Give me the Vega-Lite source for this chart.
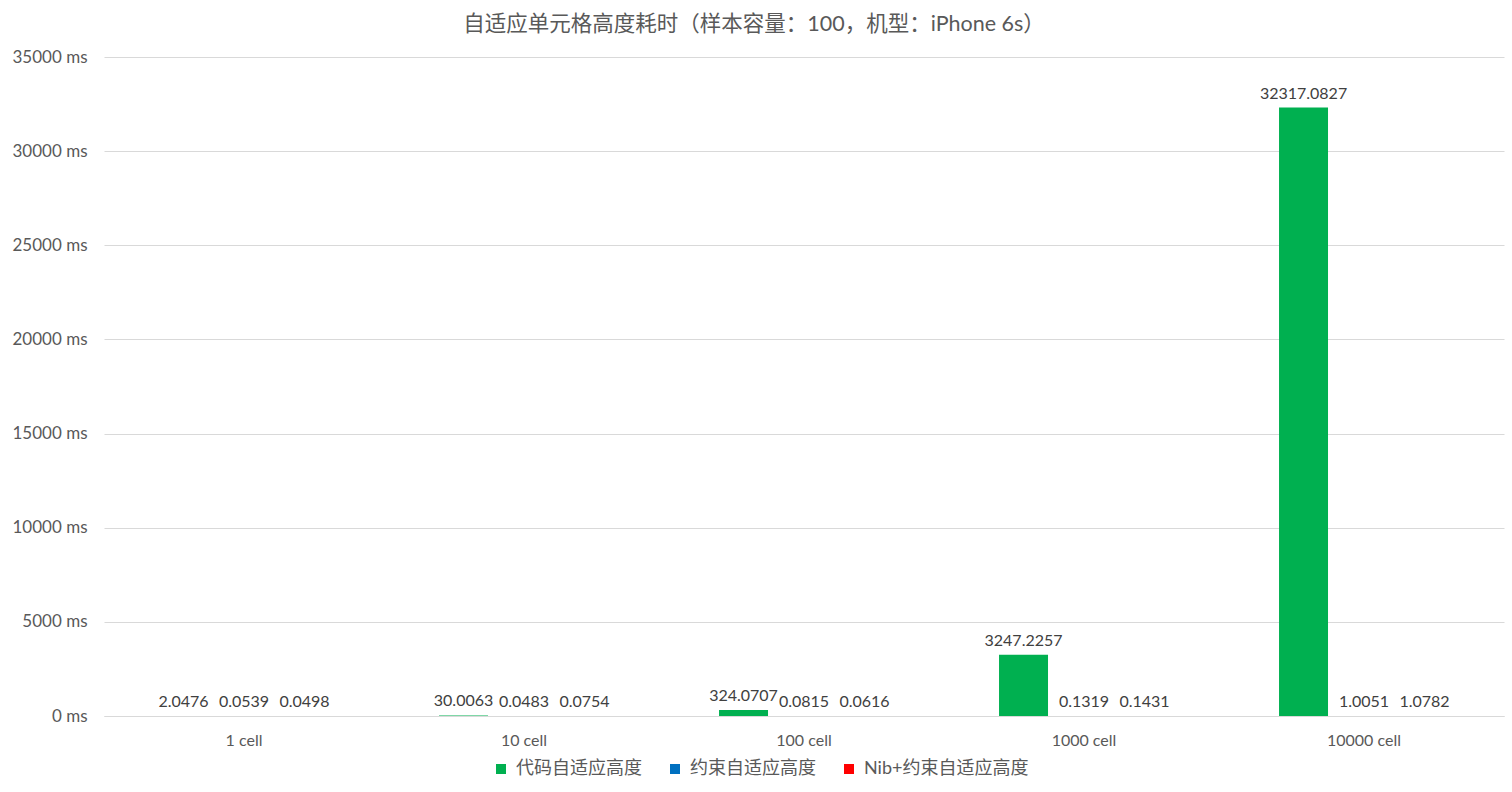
{
  "$schema": "https://vega.github.io/schema/vega-lite/v6.json",
  "description": "自适应单元格高度耗时（样本容量：100，机型：iPhone 6s）",
  "width": 1400,
  "height": 659,
  "autosize": "none",
  "padding": {"left": 104, "top": 57, "right": 8, "bottom": 76},
  "background": "white",
  "title": {
    "text": "自适应单元格高度耗时（样本容量：100，机型：iPhone 6s）",
    "fontSize": 21.5,
    "fontWeight": "normal",
    "color": "#595959",
    "font": "Lato, Noto Sans CJK SC",
    "anchor": "middle",
    "dx": -50,
    "offset": 13
  },
  "config": {
    "font": "Lato, Noto Sans CJK SC",
    "view": {"stroke": null},
    "axis": {
      "labelColor": "#595959",
      "labelFont": "Lato, Noto Sans CJK SC",
      "gridColor": "#d9d9d9",
      "domainColor": "#d9d9d9",
      "ticks": false
    }
  },
  "data": {
    "values": [
      {"cells": "1 cell", "series": "代码自适应高度", "ms": 2.0476},
      {"cells": "1 cell", "series": "约束自适应高度", "ms": 0.0539},
      {"cells": "1 cell", "series": "Nib+约束自适应高度", "ms": 0.0498},
      {"cells": "10 cell", "series": "代码自适应高度", "ms": 30.0063},
      {"cells": "10 cell", "series": "约束自适应高度", "ms": 0.0483},
      {"cells": "10 cell", "series": "Nib+约束自适应高度", "ms": 0.0754},
      {"cells": "100 cell", "series": "代码自适应高度", "ms": 324.0707},
      {"cells": "100 cell", "series": "约束自适应高度", "ms": 0.0815},
      {"cells": "100 cell", "series": "Nib+约束自适应高度", "ms": 0.0616},
      {"cells": "1000 cell", "series": "代码自适应高度", "ms": 3247.2257},
      {"cells": "1000 cell", "series": "约束自适应高度", "ms": 0.1319},
      {"cells": "1000 cell", "series": "Nib+约束自适应高度", "ms": 0.1431},
      {"cells": "10000 cell", "series": "代码自适应高度", "ms": 32317.0827},
      {"cells": "10000 cell", "series": "约束自适应高度", "ms": 1.0051},
      {"cells": "10000 cell", "series": "Nib+约束自适应高度", "ms": 1.0782}
    ]
  },
  "encoding": {
    "x": {
      "field": "cells",
      "type": "nominal",
      "sort": null,
      "title": null,
      "scale": {"paddingInner": 0, "paddingOuter": 0},
      "axis": {"labelAngle": 0, "labelFontSize": 16, "labelPadding": 16, "grid": false}
    },
    "xOffset": {
      "field": "series",
      "type": "nominal",
      "scale": {
        "domain": ["代码自适应高度", "约束自适应高度", "Nib+约束自适应高度"],
        "paddingInner": 0.19,
        "paddingOuter": 0.91
      }
    },
    "y": {
      "field": "ms",
      "type": "quantitative",
      "title": null,
      "scale": {"domain": [0, 35000], "nice": false},
      "axis": {
        "values": [0, 5000, 10000, 15000, 20000, 25000, 30000, 35000],
        "labelExpr": "datum.value + ' ms'",
        "labelFontSize": 17,
        "labelPadding": 17,
        "domain": false
      }
    }
  },
  "layer": [
    {
      "mark": {"type": "bar"},
      "encoding": {
        "color": {
          "field": "series",
          "type": "nominal",
          "scale": {
            "domain": ["代码自适应高度", "约束自适应高度", "Nib+约束自适应高度"],
            "range": ["#00b050", "#0070c0", "#ff0000"]
          },
          "legend": {
            "title": null,
            "orient": "none",
            "direction": "horizontal",
            "legendX": 388,
            "legendY": 703,
            "symbolType": "square",
            "symbolSize": 100,
            "symbolStrokeWidth": 0,
            "labelFontSize": 18,
            "labelLimit": 400,
            "labelColor": "#595959",
            "columnPadding": 24,
            "labelOffset": 6
          }
        }
      }
    },
    {
      "mark": {"type": "text", "baseline": "bottom", "dy": -6, "fontSize": 16, "color": "#404040"},
      "encoding": {
        "text": {"field": "ms", "type": "quantitative", "format": ".4f"}
      }
    }
  ]
}
